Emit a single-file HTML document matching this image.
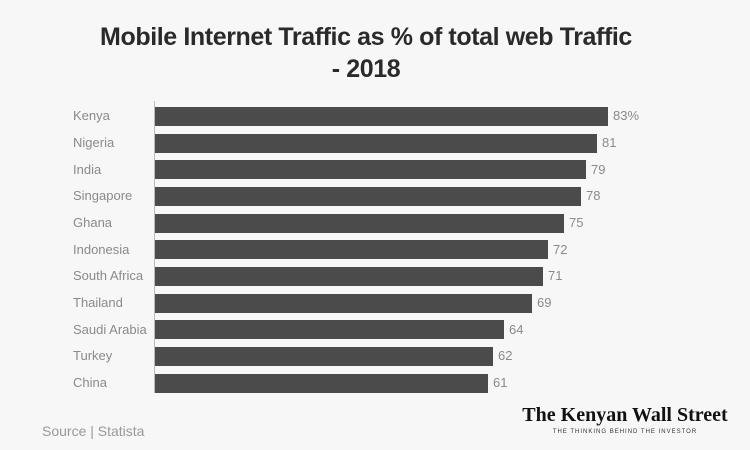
<!DOCTYPE html>
<html><head><style>
body{margin:0;width:750px;height:450px;background:#f7f7f7;overflow:hidden;font-family:"Liberation Sans",sans-serif;position:relative}
.t{position:absolute;left:0;width:732px;text-align:center;font-weight:bold;font-size:25px;color:#2a2a2a;letter-spacing:-0.4px}
.l{position:absolute;left:73px;font-size:13px;color:#8a8a8a}
.b{position:absolute;left:155px;height:19px;background:#4b4b4b}
.v{position:absolute;font-size:13px;color:#8a8a8a}
</style></head><body>
<div class="t" style="top:23px">Mobile Internet Traffic as % of total web Traffic</div>
<div class="t" style="top:55px">- 2018</div>
<div style="position:absolute;left:154px;top:101px;width:1px;height:292px;background:#bbb"></div>
<div class="l" style="top:108px">Kenya</div><div class="b" style="top:107px;width:453px"></div><div class="v" style="left:613px;top:108px">83%</div>
<div class="l" style="top:135px">Nigeria</div><div class="b" style="top:134px;width:442px"></div><div class="v" style="left:602px;top:135px">81</div>
<div class="l" style="top:162px">India</div><div class="b" style="top:160px;width:431px"></div><div class="v" style="left:591px;top:162px">79</div>
<div class="l" style="top:188px">Singapore</div><div class="b" style="top:187px;width:426px"></div><div class="v" style="left:586px;top:188px">78</div>
<div class="l" style="top:215px">Ghana</div><div class="b" style="top:214px;width:409px"></div><div class="v" style="left:569px;top:215px">75</div>
<div class="l" style="top:242px">Indonesia</div><div class="b" style="top:240px;width:393px"></div><div class="v" style="left:553px;top:242px">72</div>
<div class="l" style="top:268px">South Africa</div><div class="b" style="top:267px;width:388px"></div><div class="v" style="left:548px;top:268px">71</div>
<div class="l" style="top:295px">Thailand</div><div class="b" style="top:294px;width:377px"></div><div class="v" style="left:537px;top:295px">69</div>
<div class="l" style="top:322px">Saudi Arabia</div><div class="b" style="top:320px;width:349px"></div><div class="v" style="left:509px;top:322px">64</div>
<div class="l" style="top:348px">Turkey</div><div class="b" style="top:347px;width:338px"></div><div class="v" style="left:498px;top:348px">62</div>
<div class="l" style="top:375px">China</div><div class="b" style="top:374px;width:333px"></div><div class="v" style="left:493px;top:375px">61</div>
<div style="position:absolute;left:42px;top:423px;font-size:14px;color:#999">Source | Statista</div>
<div style="position:absolute;left:515px;top:404px;width:220px;text-align:center;white-space:nowrap;font-family:'Liberation Serif',serif;font-weight:bold;font-size:20px;color:#111">The Kenyan Wall Street</div>
<div style="position:absolute;left:515px;top:429px;width:220px;text-align:center;white-space:nowrap;font-size:6px;letter-spacing:1px;color:#333">THE THINKING BEHIND THE INVESTOR</div>
</body></html>
